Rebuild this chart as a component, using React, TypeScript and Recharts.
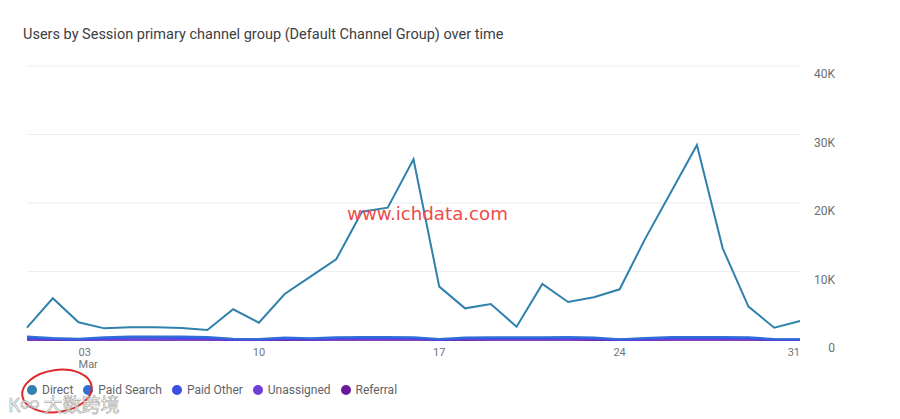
import React from 'react';
import { LineChart, Line, XAxis, YAxis, CartesianGrid } from 'recharts';

const days = [1,2,3,4,5,6,7,8,9,10,11,12,13,14,15,16,17,18,19,20,21,22,23,24,25,26,27,28,29,30,31];
const direct = [1800,6090,2580,1700,1850,1850,1750,1460,4480,2530,6720,9250,11780,18730,19320,26380,7790,4620,5260,1950,8180,5550,6230,7400,14840,21650,28470,13380,4870,1800,2770];
const paidSearch = [500,300,200,400,500,500,500,450,200,150,350,250,400,450,450,400,150,350,400,400,400,450,350,100,300,450,450,450,400,150,100];
const paidOther = [300,180,120,260,320,320,300,280,120,90,220,160,260,300,300,260,90,220,260,260,260,280,220,60,200,280,300,280,260,90,60];
const unassigned = [80,60,40,70,90,90,80,80,40,30,60,50,70,80,80,70,30,60,70,70,70,80,60,20,50,80,80,80,70,30,20];
const referral = [20,15,10,20,20,20,20,20,10,10,15,15,20,20,20,20,10,15,20,20,20,20,15,5,15,20,20,20,20,10,5];
const xTicks = [3,10,17,24,31];
const yTicks = [0,10000,20000,30000,40000];

const series = [
  { key: 'referral', name: 'Referral', color: '#6a1b9a', values: referral },
  { key: 'unassigned', name: 'Unassigned', color: '#6f3fd6', values: unassigned },
  { key: 'paidOther', name: 'Paid Other', color: '#3b4fe4', values: paidOther },
  { key: 'paidSearch', name: 'Paid Search', color: '#2f6fd6', values: paidSearch },
  { key: 'direct', name: 'Direct', color: '#3181ad', values: direct },
];
const legendOrder = ['direct', 'paidSearch', 'paidOther', 'unassigned', 'referral'];

const data = days.map((d, i) => {
  const row: any = { day: d };
  series.forEach(s => { row[s.key] = s.values[i]; });
  return row;
});

const fmtK = (v: number) => (v === 0 ? '0' : `${v / 1000}K`);

const YTick = (props: any) => {
  const { y, payload } = props;
  return (
    <text x={835} y={y + 12} textAnchor="end" fontSize={12} fill="#6b6f73" fontFamily="Roboto">
      {fmtK(payload.value)}
    </text>
  );
};

const XTick = (props: any) => {
  const { x, y, payload } = props;
  const label = String(payload.value).padStart(2, '0');
  const first = payload.value === xTicks[0];
  const last = payload.value === xTicks[xTicks.length - 1];
  const anchor = first ? 'start' : last ? 'end' : 'middle';
  return (
    <g>
      <text x={x} y={y + 8} textAnchor={anchor} fontSize={11} fill="#70757a" fontFamily="Roboto">{label}</text>
      {first && (
        <text x={x} y={y + 20} textAnchor="start" fontSize={11} fill="#70757a" fontFamily="Roboto">Mar</text>
      )}
    </g>
  );
};

export default function App() {
  return (
    <div style={{ position: 'absolute', left: 0, top: 0, width: 900, height: 419, background: '#fff', fontFamily: 'Roboto', overflow: 'hidden' }}>
      <div style={{ position: 'absolute', left: 23, top: 26, fontSize: 14.5, color: '#3c4043', whiteSpace: 'nowrap' }}>
        Users by Session primary channel group (Default Channel Group) over time
      </div>
      <LineChart width={900} height={419} data={data} margin={{ top: 66, right: 0, left: 27, bottom: 49 }}>
        <CartesianGrid horizontal vertical={false} stroke="#eceef0" />
        <XAxis dataKey="day" type="number" domain={[1, 31]} ticks={xTicks} axisLine={false} tickLine={false} tick={<XTick />} height={30} interval={0} />
        <YAxis orientation="right" domain={[0, 40000]} ticks={yTicks} axisLine={false} tickLine={false} tick={<YTick />} width={100} />
        {series.map(s => (
          <Line key={s.key} type="linear" dataKey={s.key} name={s.name} stroke={s.color} strokeWidth={2} dot={false} isAnimationActive={false} />
        ))}
      </LineChart>
      <div style={{ position: 'absolute', left: 347, top: 203, fontSize: 18.2, color: '#ef4b4b', fontFamily: 'DejaVu Sans', whiteSpace: 'nowrap' }}>
        www.ichdata.com
      </div>
      <div style={{ position: 'absolute', left: 27, top: 383, display: 'flex', alignItems: 'center', fontSize: 12, color: '#5f6368', whiteSpace: 'nowrap' }}>
        {legendOrder.map(k => {
          const s = series.find(x => x.key === k)!;
          return (
            <div key={k} style={{ display: 'flex', alignItems: 'center', marginRight: 10 }}>
              <span style={{ width: 10, height: 10, borderRadius: 5, background: s.color, display: 'inline-block', marginRight: 5 }} />
              <span>{s.name}</span>
            </div>
          );
        })}
      </div>
      <svg width={900} height={419} style={{ position: 'absolute', left: 0, top: 0, pointerEvents: 'none' }}>
        <ellipse cx={57} cy={391} rx={35} ry={21} transform="rotate(-8 57 391)" fill="none" stroke="#e0282a" strokeWidth={2} />
        <text x={8} y={412} fontSize={19} fontFamily="Noto Sans CJK SC" fill="#ffffff" stroke="#a0a0a0" strokeWidth={0.7} opacity={0.85}>K∞ 大数跨境</text>
      </svg>
    </div>
  );
}
